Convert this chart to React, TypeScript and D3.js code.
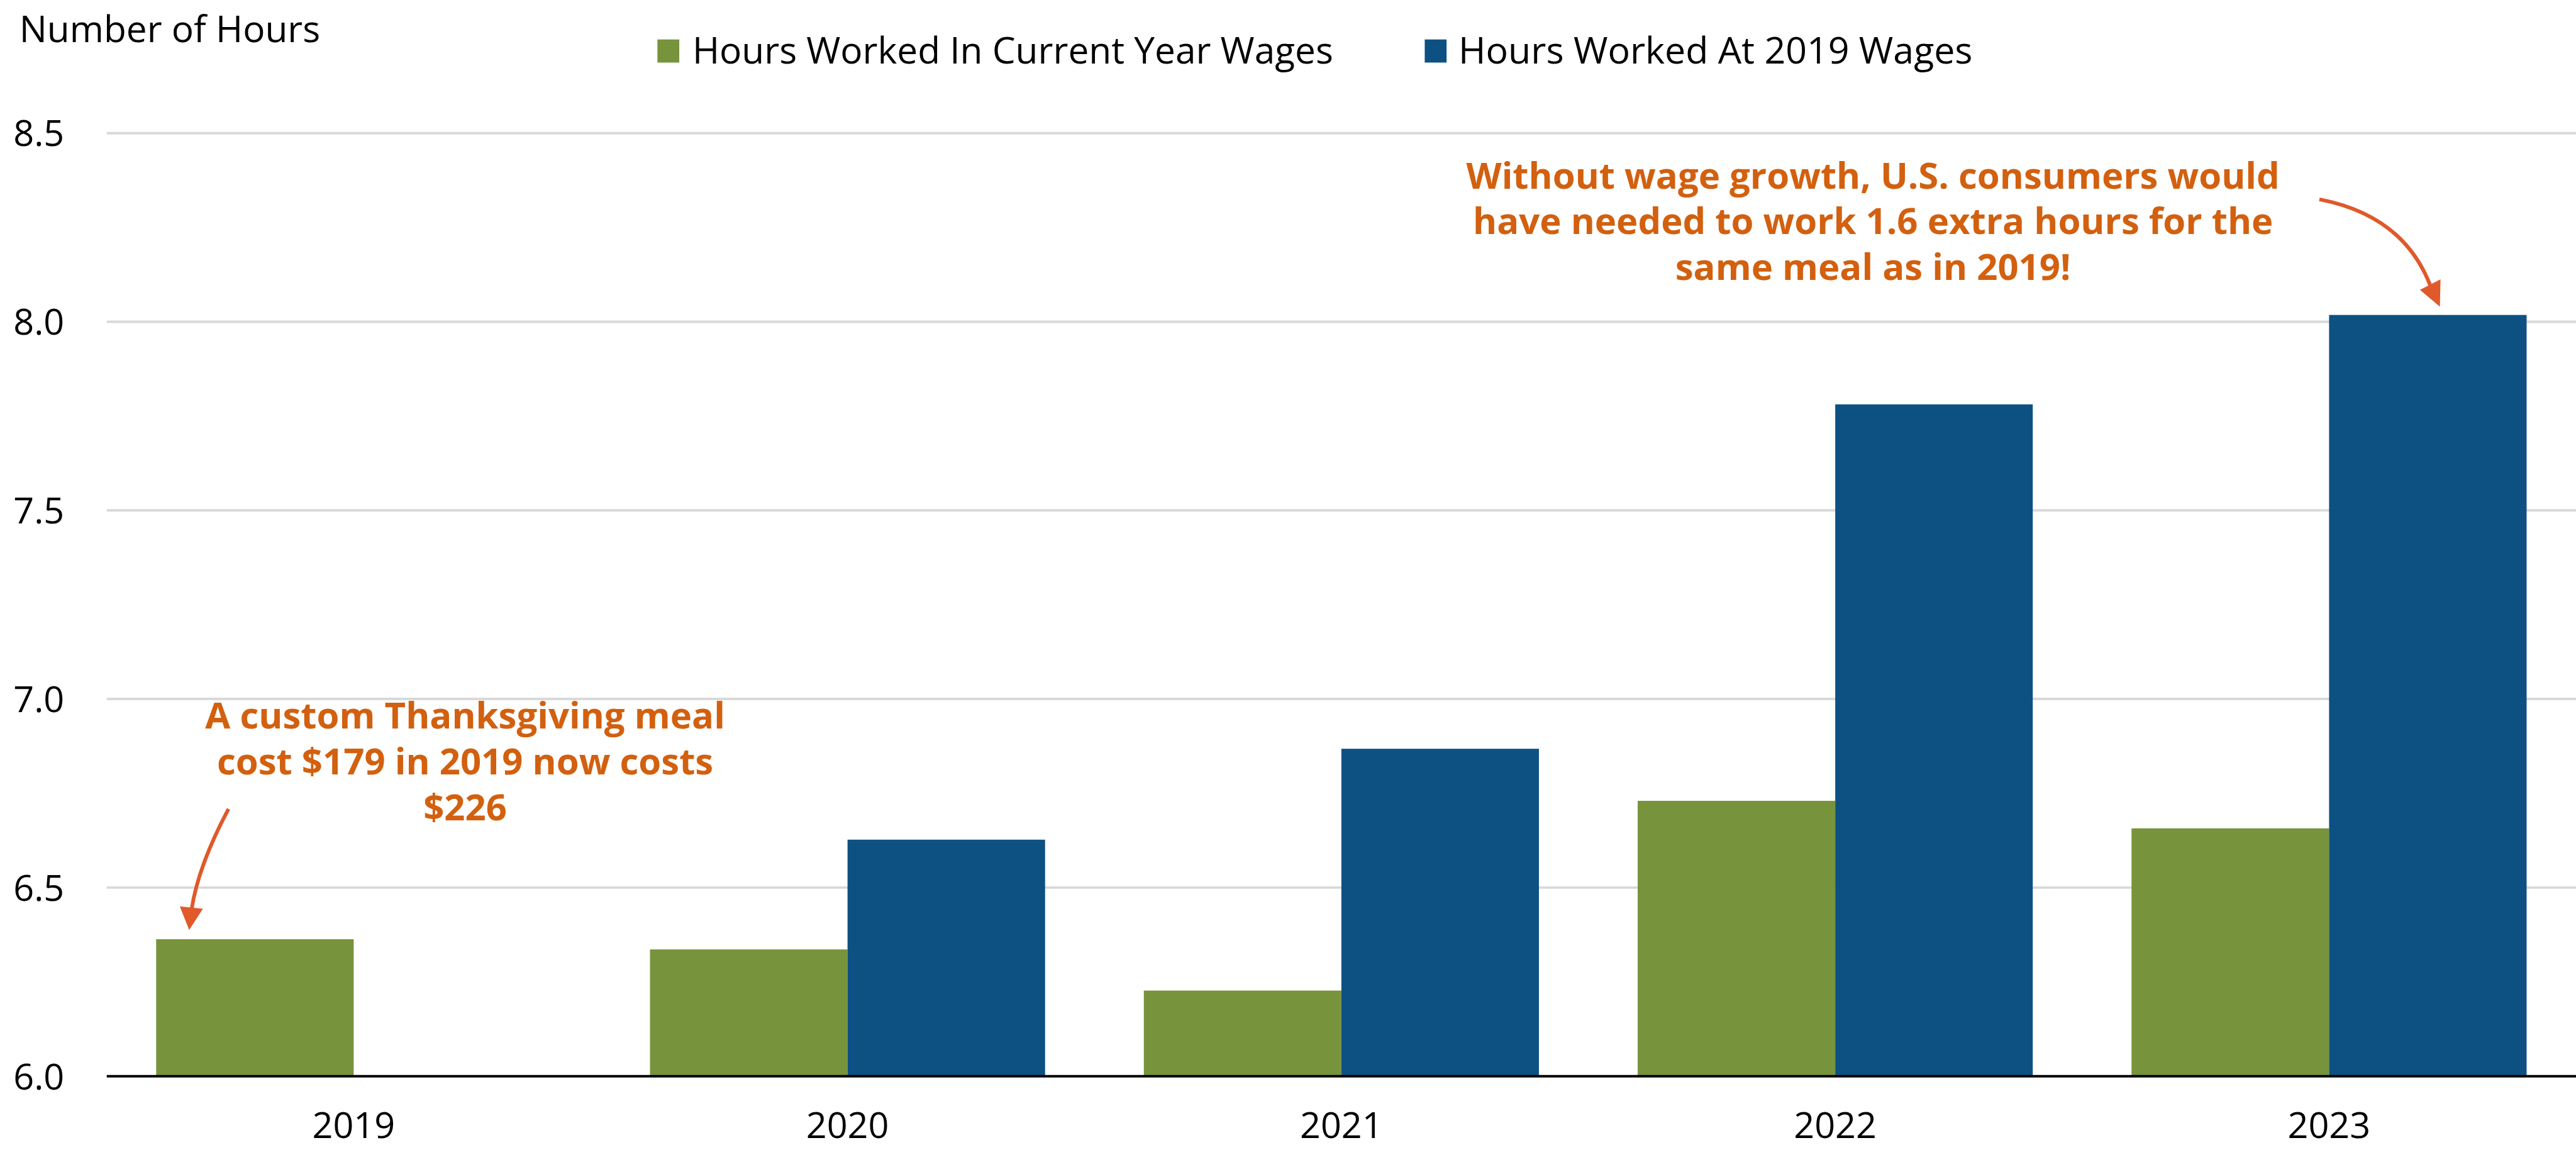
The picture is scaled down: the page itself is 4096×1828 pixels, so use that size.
import React from "react";
import * as d3 from "d3";

const years = ["2019", "2020", "2021", "2022", "2023"];
const seriesKeys = ["current", "wages2019"];
const seriesNames = ["Hours Worked In Current Year Wages", "Hours Worked At 2019 Wages"];
const seriesColors = ["#77933C", "#0D5183"];
const currentYearHours = [6.363, 6.336, 6.227, 6.730, 6.657];
const wages2019Hours: (number | null)[] = [null, 6.627, 6.868, 7.781, 8.018];
const yTicks = [6.0, 6.5, 7.0, 7.5, 8.0, 8.5];
const yAxisTitle = "Number of Hours";
const note1Lines = ["A custom Thanksgiving meal", "cost $179 in 2019 now costs", "$226"];
const note2Lines = ["Without wage growth, U.S. consumers would", "have needed to work 1.6 extra hours for the", "same meal as in 2019!"];

const W = 4126;
const H = 1841;
const FONT = "'Open Sans', 'Noto Sans', sans-serif";
const ORANGE_TEXT = "#D2600F";
const ARROW = "#E0592A";

export default function App() {
  const left = 171;
  const right = 4126;
  const y = d3.scaleLinear().domain([6, 8.5]).range([1723, 213]);
  const x0 = d3.scaleBand<string>().domain(years).range([left, right]).padding(0);
  const step = x0.bandwidth();
  const x1 = d3.scaleBand<string>().domain(seriesKeys).range([0.1 * step, 0.9 * step]).padding(0);
  const values = [currentYearHours, wages2019Hours];

  const arrow1 = d3.path();
  arrow1.moveTo(366, 1295);
  arrow1.quadraticCurveTo(318, 1385, 307, 1455);
  const arrow2 = d3.path();
  arrow2.moveTo(3715, 319);
  arrow2.quadraticCurveTo(3850, 345, 3893, 458);

  return (
    <svg
      width={4096}
      height={1828}
      viewBox={`0 0 ${W} ${H}`}
      style={{ position: "absolute", left: 0, top: 0, display: "block", background: "#fff" }}
    >
      <rect x={0} y={0} width={W} height={H} fill="#fff" />
      {/* gridlines */}
      {yTicks.filter((t) => t > 6).map((t) => (
        <line key={t} x1={left} x2={right} y1={y(t)} y2={y(t)} stroke="#D9D9D9" strokeWidth={4} />
      ))}
      {/* bars */}
      {years.map((yr, i) => (
        <g key={yr} transform={`translate(${x0(yr)},0)`}>
          {seriesKeys.map((k, s) => {
            const v = values[s][i];
            if (v == null) return null;
            return (
              <rect
                key={k}
                x={x1(k)}
                y={y(v)}
                width={x1.bandwidth()}
                height={y(6) - y(v)}
                fill={seriesColors[s]}
              />
            );
          })}
        </g>
      ))}
      {/* x axis line */}
      <line x1={left} x2={right} y1={y(6)} y2={y(6)} stroke="#000" strokeWidth={4} />
      {/* y tick labels */}
      {yTicks.map((t) => (
        <text key={t} x={103} y={y(t) + 21} textAnchor="end" fontFamily={FONT} fontSize={58} fill="#000">
          {d3.format(".1f")(t)}
        </text>
      ))}
      {/* x labels */}
      {years.map((yr) => (
        <text key={yr} x={(x0(yr) as number) + step / 2} y={1822} textAnchor="middle" fontFamily={FONT} fontSize={58} fill="#000">
          {yr}
        </text>
      ))}
      {/* axis title */}
      <text x={31} y={67} fontFamily={FONT} fontSize={59} fill="#000">{yAxisTitle}</text>
      {/* legend */}
      <rect x={1053} y={63} width={35} height={37} fill={seriesColors[0]} />
      <text x={1109} y={102} fontFamily={FONT} fontSize={59} fill="#000">{seriesNames[0]}</text>
      <rect x={2282} y={63} width={35} height={37} fill={seriesColors[1]} />
      <text x={2336} y={102} fontFamily={FONT} fontSize={59.5} fill="#000">{seriesNames[1]}</text>
      {/* annotation 1 */}
      {note1Lines.map((l, i) => (
        <text key={i} x={745} y={1166 + i * 73.5} textAnchor="middle" fontFamily={FONT} fontWeight={700} fontSize={58.5} fill={ORANGE_TEXT}>
          {l}
        </text>
      ))}
      <path d={arrow1.toString()} fill="none" stroke={ARROW} strokeWidth={6} />
      <polygon points="303,1489 288,1451 325,1455" fill={ARROW} />
      {/* annotation 2 */}
      {note2Lines.map((l, i) => (
        <text key={i} x={3000} y={302 + i * 73} textAnchor="middle" fontFamily={FONT} fontWeight={700} fontSize={58.5} fill={ORANGE_TEXT}>
          {l}
        </text>
      ))}
      <path d={arrow2.toString()} fill="none" stroke={ARROW} strokeWidth={6} />
      <polygon points="3908,491 3876,464 3909,447" fill={ARROW} />
    </svg>
  );
}
